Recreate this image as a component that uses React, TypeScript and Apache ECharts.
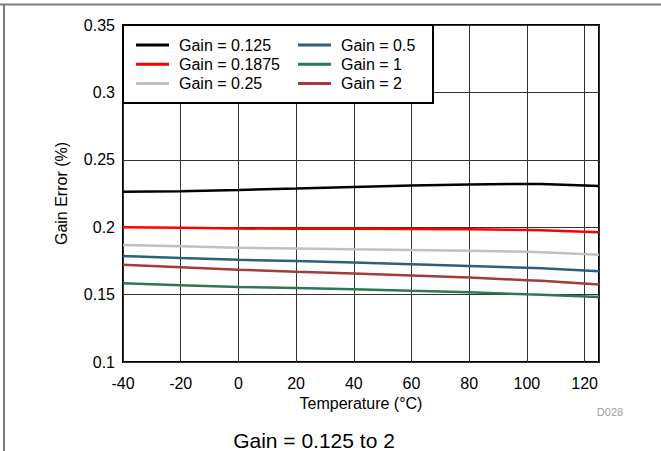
import React, { useEffect, useRef } from "react";
import * as echarts from "echarts";

const temps = [-40, -20, 0, 20, 40, 60, 80, 100, 105, 125];
const seriesNames = ["Gain = 0.125", "Gain = 0.1875", "Gain = 0.25", "Gain = 0.5", "Gain = 1", "Gain = 2"];
const gain0125 = [0.2263, 0.2266, 0.2276, 0.2287, 0.2299, 0.231, 0.2317, 0.2321, 0.2321, 0.2306];
const gain01875 = [0.2, 0.1995, 0.199, 0.1988, 0.1988, 0.1987, 0.1985, 0.198, 0.1978, 0.1963];
const gain025 = [0.1868, 0.1858, 0.1848, 0.1842, 0.1836, 0.1831, 0.1826, 0.1818, 0.1815, 0.1796];
const gain05 = [0.1786, 0.1771, 0.1758, 0.1749, 0.1739, 0.1726, 0.1713, 0.1699, 0.1695, 0.1674];
const gain1 = [0.1584, 0.157, 0.1557, 0.1549, 0.154, 0.1528, 0.1517, 0.1502, 0.1499, 0.1482];
const gain2 = [0.1721, 0.1703, 0.1684, 0.167, 0.1657, 0.1642, 0.1627, 0.1607, 0.1602, 0.1575];
const allValues = [gain0125, gain01875, gain025, gain05, gain1, gain2];
const colors = ["#000000", "#ff0000", "#c0c0c0", "#2b5f7c", "#2f7652", "#a33b3b"];

const FONT = "'Liberation Sans', Arial, Helvetica, sans-serif";

export default function App() {
  const ref = useRef<HTMLDivElement>(null);
  useEffect(() => {
    if (!ref.current) return;
    const chart = echarts.init(ref.current, null, { renderer: "svg" });
    const legendCommon = {
      orient: "vertical",
      icon: "rect",
      itemWidth: 33,
      itemHeight: 3,
      itemGap: 3.2,
      padding: 0,
      top: 37,
      z: 20,
      selectedMode: false,
      textStyle: { fontSize: 16, fontFamily: FONT, color: "#000", lineHeight: 16, padding: [0, 0, 0, 5] },
    };
    chart.setOption({
      animation: false,
      textStyle: { fontFamily: FONT },
      grid: { left: 123, right: 62, top: 25, bottom: 89, show: true, borderColor: "#000", borderWidth: 2, backgroundColor: "transparent" },
      legend: [
        { ...legendCommon, left: 136, data: [seriesNames[0], seriesNames[1], seriesNames[2]] },
        { ...legendCommon, left: 298, data: [seriesNames[3], seriesNames[4], seriesNames[5]] },
      ],
      xAxis: {
        type: "value",
        min: -40,
        max: 125,
        interval: 20,
        axisLine: { show: false },
        axisTick: { show: false },
        splitLine: { show: true, lineStyle: { color: "#333", width: 1 } },
        axisLabel: {
          fontSize: 16,
          color: "#000",
          margin: 13,
          showMaxLabel: false,
          formatter: (v: number) => (v > 120 ? "" : String(v)),
        },
        name: "Temperature (°C)",
        nameLocation: "middle",
        nameGap: 33,
        nameTextStyle: { fontSize: 16, color: "#000" },
      },
      yAxis: {
        type: "value",
        min: 0.1,
        max: 0.35,
        interval: 0.05,
        axisLine: { show: false },
        axisTick: { show: false },
        splitLine: { show: true, lineStyle: { color: "#333", width: 1 } },
        axisLabel: {
          fontSize: 16,
          color: "#000",
          margin: 8,
          formatter: (v: number) => String(+v.toFixed(3)),
        },
        name: "Gain Error (%)",
        nameLocation: "middle",
        nameGap: 54,
        nameTextStyle: { fontSize: 16, color: "#000" },
      },
      series: seriesNames.map((name, i) => ({
        name,
        type: "line",
        showSymbol: false,
        symbol: "none",
        z: 3,
        color: colors[i],
        lineStyle: { color: colors[i], width: 2.5 },
        data: temps.map((t, j) => [t, allValues[i][j]]),
      })),
      graphic: [
        { type: "line", z: 1, shape: { x1: 0, y1: 4.5, x2: 661, y2: 4.5 }, style: { stroke: "#7a7a7a", lineWidth: 2 } },
        { type: "line", z: 1, shape: { x1: 4, y1: 4, x2: 4, y2: 451 }, style: { stroke: "#7a7a7a", lineWidth: 2 } },
        { type: "rect", z: 10, shape: { x: 123, y: 25, width: 310, height: 78 }, style: { fill: "#fff", stroke: "#000", lineWidth: 2 } },
        { type: "text", z: 10, x: 314, y: 440, style: { text: "Gain = 0.125 to 2", fontSize: 21, fontFamily: FONT, fill: "#000", textAlign: "center", textVerticalAlign: "middle" } },
        { type: "text", z: 10, x: 610, y: 412, style: { text: "D028", fontSize: 11, fontFamily: FONT, fill: "#a0a0a0", textAlign: "center", textVerticalAlign: "middle" } },
      ],
    });
    return () => chart.dispose();
  }, []);
  return <div ref={ref} style={{ position: "fixed", left: 0, top: 0, width: 661, height: 451, background: "#fff" }} />;
}
